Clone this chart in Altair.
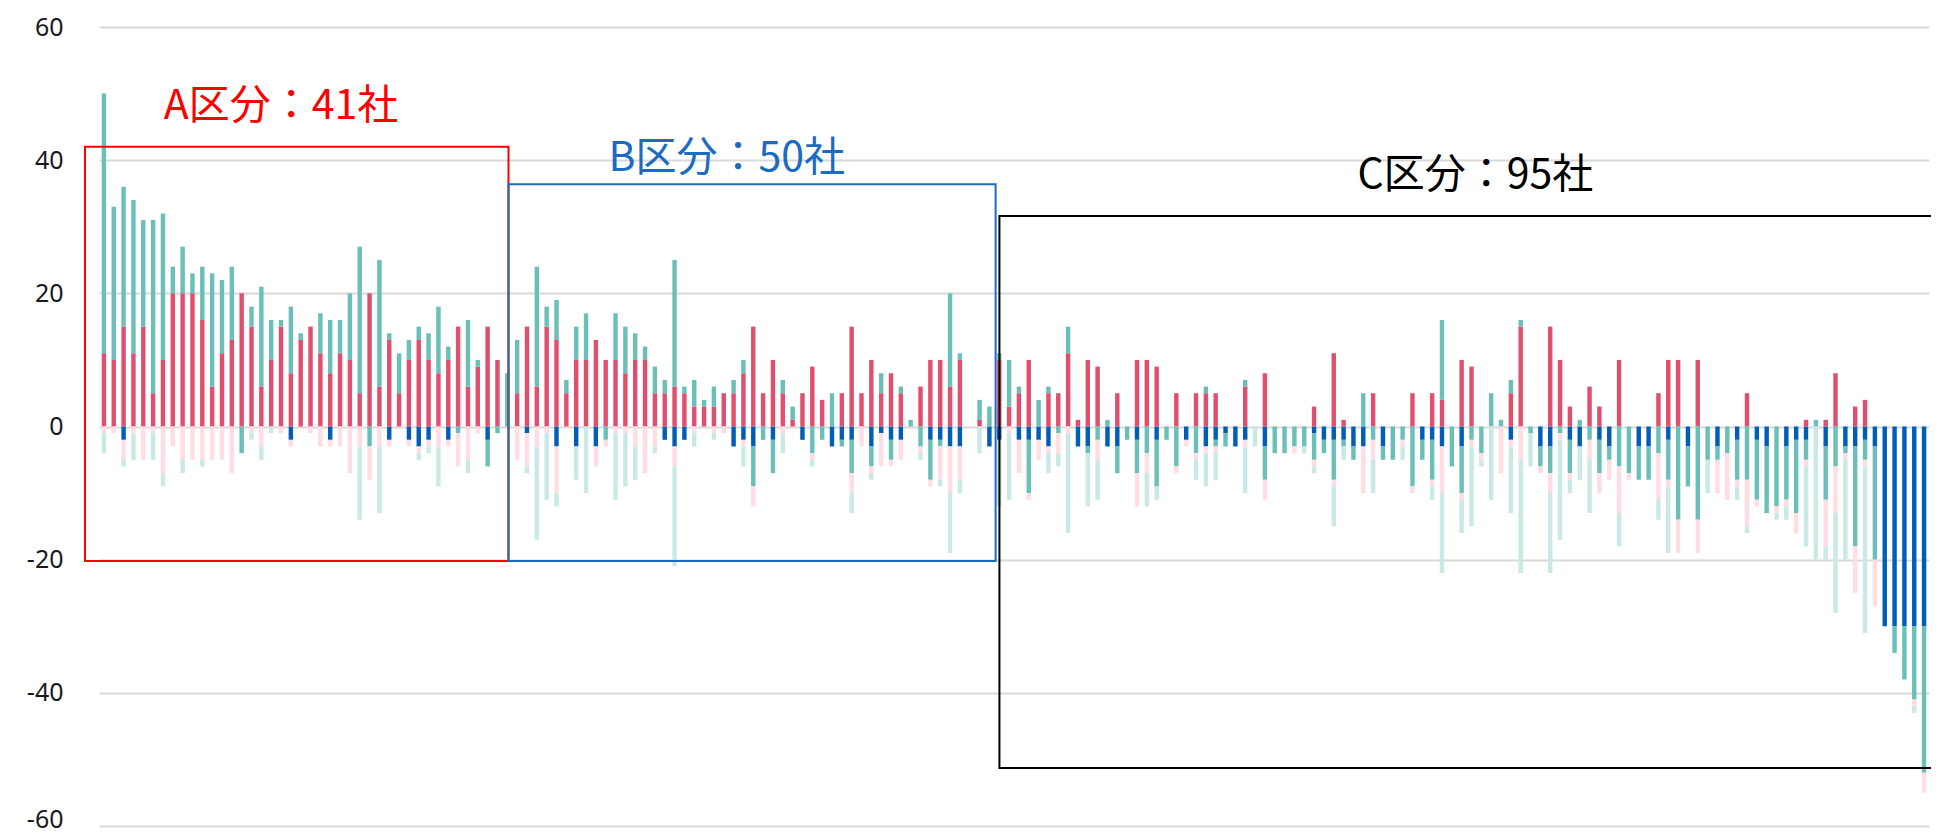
import altair as alt
import pandas as pd

# ---- data: 186 companies, five stacked series (values in points) ----
blue = [0,0,-2,0,0,0,0,0,0,0,
        0,0,0,0,0,0,0,0,0,-2,
        0,0,0,-2,0,0,0,0,0,-2,
        0,-2,-3,-2,0,-2,0,0,0,-2,
        0,0,0,-1,0,0,-3,0,-3,0,
        -3,0,0,0,0,0,0,-2,-3,-2,
        0,0,0,0,-3,-2,-3,0,-2,0,
        0,-2,0,0,-3,-2,-2,0,-3,-1,
        -2,-2,0,0,-2,-2,-3,-3,0,0,
        -3,-2,0,-2,-2,-2,-3,0,0,-3,
        -3,0,-3,-3,0,-2,0,-2,0,0,
        -2,0,-3,-2,-1,-3,-2,0,-3,0,
        0,0,0,-1,-2,-2,-2,-3,-3,0,
        -3,0,0,0,-2,-2,-3,0,-3,0,
        0,0,0,-2,0,0,-3,-3,0,-2,
        -3,0,-2,-3,0,0,-3,-3,0,-2,
        0,-3,0,0,-3,0,-2,0,-2,-3,
        0,-3,-2,-2,0,-3,0,-3,-3,-2,
        -3,-30,-30,-30,-30,-30]
red = [11,10,15,11,15,5,10,20,20,20,
       16,6,11,13,20,15,6,10,15,8,
       13,15,11,8,11,10,5,20,6,13,
       5,10,13,10,8,10,15,6,9,15,
       10,0,5,15,6,15,13,5,10,10,
       13,10,10,8,10,10,5,5,6,5,
       3,3,3,5,5,8,15,5,10,5,
       1,5,9,4,0,5,15,5,10,5,
       8,5,0,6,10,10,6,10,0,1,
       0,10,3,5,10,0,5,5,11,1,
       10,9,0,5,0,10,10,9,0,5,
       0,5,5,5,0,0,6,0,8,0,
       0,0,0,3,0,11,1,0,0,5,
       0,0,0,5,0,5,4,0,10,9,
       0,0,0,5,15,0,0,15,10,3,
       0,6,3,0,10,0,0,0,5,10,
       10,0,10,0,0,0,0,5,0,0,
       0,0,0,1,0,1,8,0,3,4,
       0,0,0,0,0,0]
teal = [39,23,21,23,16,26,22,4,7,3,
        8,17,11,11,-4,3,15,6,1,10,
        1,0,6,8,5,10,22,-3,19,1,
        6,3,2,4,10,2,-1,10,1,-4,
        -1,8,8,0,18,3,6,2,5,7,
        0,-2,7,7,4,2,4,2,19,1,
        4,1,3,0,2,2,-6,-2,-5,2,
        2,0,-4,-2,5,-1,-5,0,-3,3,
        -3,1,1,-3,-6,-1,14,1,0,3,
        3,1,7,1,-8,4,1,-1,4,0,
        -1,-2,1,-4,-2,-5,-4,-7,-2,-6,
        0,-4,1,-1,-2,0,1,0,-5,-4,
        -4,-3,-3,-4,-2,-6,-1,-2,5,-2,
        -2,-5,-2,-9,-3,-6,12,-6,-7,-2,
        -4,5,1,2,1,-1,-3,-4,-1,-5,
        1,-2,-5,-2,-6,-7,-5,-5,-4,-6,
        -14,-6,-14,-5,-2,-4,-6,-8,-9,-10,
        -12,-8,-11,-3,1,-8,-6,-1,-15,-3,
        -17,0,-4,-8,-11,-22]
pink = [-1,-1,-3,-1,-5,-1,-7,-3,-5,-5,
        -5,-5,-5,-7,0,-1,-3,0,-1,-1,
        0,-1,-3,-1,-3,-7,-3,-5,-3,-1,
        0,-1,-1,-1,-3,-1,-5,-5,-1,0,
        0,0,-5,-5,-3,-1,-7,0,0,0,
        -3,-1,-1,-1,-3,-7,-3,0,-3,0,
        -1,0,-1,-1,0,-1,-3,0,0,-1,
        0,0,-1,0,0,0,-3,-3,-1,-5,
        -1,-3,0,-1,-1,-5,-7,-5,0,0,
        0,0,-1,-5,-1,-3,-1,-3,-1,0,
        0,-3,0,0,0,-5,-3,0,0,-1,
        -1,-1,-1,-1,0,0,-1,0,-3,0,
        0,-1,0,-1,0,-1,0,0,-7,-3,
        0,0,-1,-1,0,-1,-7,0,-1,-1,
        -1,0,-7,-1,-5,0,-1,-3,-1,-1,
        0,-3,-3,-3,-7,-1,0,0,-7,-1,
        -5,0,-5,0,-5,-7,-1,-7,-1,0,
        -1,-1,-3,-1,0,-7,-7,-1,-7,-1,
        -7,0,0,0,-1,-3]
lteal = [-3,0,-1,-4,0,-4,-2,0,-2,0,
         -1,0,0,0,0,-1,-2,-1,0,0,
         0,0,0,0,0,0,-11,0,-10,0,
         0,0,-1,-1,-6,0,0,-2,0,0,
         0,0,0,-1,-14,-10,-2,0,-5,-10,
         0,0,-10,-8,-5,0,-1,0,-15,0,
         -2,0,-1,0,0,-3,0,0,0,-3,
         0,0,-1,0,0,0,-3,0,-1,0,
         0,0,0,-1,0,-1,-9,-2,0,-4,
         0,-10,-10,0,0,0,-3,-2,-15,0,
         -8,-6,0,0,0,0,-5,-2,0,0,
         0,-3,-5,-4,0,0,-7,-3,0,0,
         0,0,-1,-1,0,-6,-2,0,0,-5,
         0,0,-2,0,0,-2,-12,0,-5,-12,
         -1,-11,0,-10,-17,-5,0,-12,-15,-2,
         -5,-8,0,0,-5,0,0,0,-3,-10,
         0,0,0,-5,0,0,-2,-1,0,0,
         -1,-2,0,-12,-20,-2,-15,-15,0,-25,
         0,0,0,0,-1,0]

series_names = ["s1", "s2", "s3", "s4", "s5"]
series_colors = ["#005EB8", "#E0506E", "#6BBFB9", "#FFDDE2", "#C9E8E6"]
series_values = [blue, red, teal, pink, lteal]

# group annotation boxes (company-index units / value units)
box_labels = ["A区分：41社", "B区分：50社", "C区分：95社"]
box_colors = ["#FF0000", "#1A6BC1", "#000000"]
box_left = [-0.92, 42.12, 92.02]
box_right = [42.12, 91.63, 189.0]
box_top = [42.0, 36.4, 31.6]
box_bottom = [-20.2, -20.2, -51.3]
label_x = [19.0, 64.3, 140.4]
label_y = [48.0, 40.2, 37.6]
y_ticks = [-60, -40, -20, 0, 20, 40, 60]

n = len(red)
rows = []
for k, (name, vals) in enumerate(zip(series_names, series_values)):
    for i, v in enumerate(vals):
        if v != 0:
            rows.append({"company": i + 1, "series": name, "ord": k, "value": v})
df = pd.DataFrame(rows)

boxes = pd.DataFrame({"x1": box_left, "x2": box_right, "y1": box_top, "y2": box_bottom,
                      "col": box_colors, "label": box_labels, "lx": label_x, "ly": label_y})

y_scale = alt.Scale(domain=[-60, 60], nice=False)
xq = alt.Scale(domain=[0.5, n + 0.5], nice=False, zero=False)

bars = alt.Chart(df).mark_bar().encode(
    x=alt.X("company:O", axis=None,
            scale=alt.Scale(domain=list(range(1, n + 1)), paddingInner=0.55, paddingOuter=0.275)),
    y=alt.Y("value:Q", stack="zero", scale=y_scale,
            axis=alt.Axis(values=y_ticks, grid=True, domain=False,
                          ticks=False, title=None, labelFontSize=25, labelFont="Noto Sans",
                          labelColor="#1a1a1a", labelPadding=36, gridColor="#D9D9D9",
                          gridWidth=2, labelExpr="toString(datum.value)",
                          labelOffset={"condition": {"test": "datum.value == -60", "value": -7},
                                       "value": 0})),
    color=alt.Color("series:N", scale=alt.Scale(domain=series_names, range=series_colors),
                    legend=None),
    order=alt.Order("ord:Q"),
)

rects = alt.Chart(boxes).mark_rect(filled=False, strokeWidth=2).encode(
    x=alt.X("x1:Q", scale=xq, axis=None),
    x2="x2:Q",
    y=alt.Y("y1:Q", scale=y_scale),
    y2="y2:Q",
    stroke=alt.Stroke("col:N", scale=None),
)

texts = alt.Chart(boxes).mark_text(fontSize=41, font="Noto Sans CJK JP", align="center",
                                   baseline="middle").encode(
    x=alt.X("lx:Q", scale=xq, axis=None),
    y=alt.Y("ly:Q", scale=y_scale),
    text="label:N",
    color=alt.Color("col:N", scale=None),
)

chart = alt.layer(bars, rects, texts).resolve_scale(x="independent").properties(
    width=1830, height=799,
    autosize=alt.AutoSizeParams(type="none"),
    padding={"left": 91, "top": 19, "right": 2, "bottom": 7},
).configure_view(stroke=None)

chart.save("out.html", embed_options={"renderer": "svg", "actions": False})
